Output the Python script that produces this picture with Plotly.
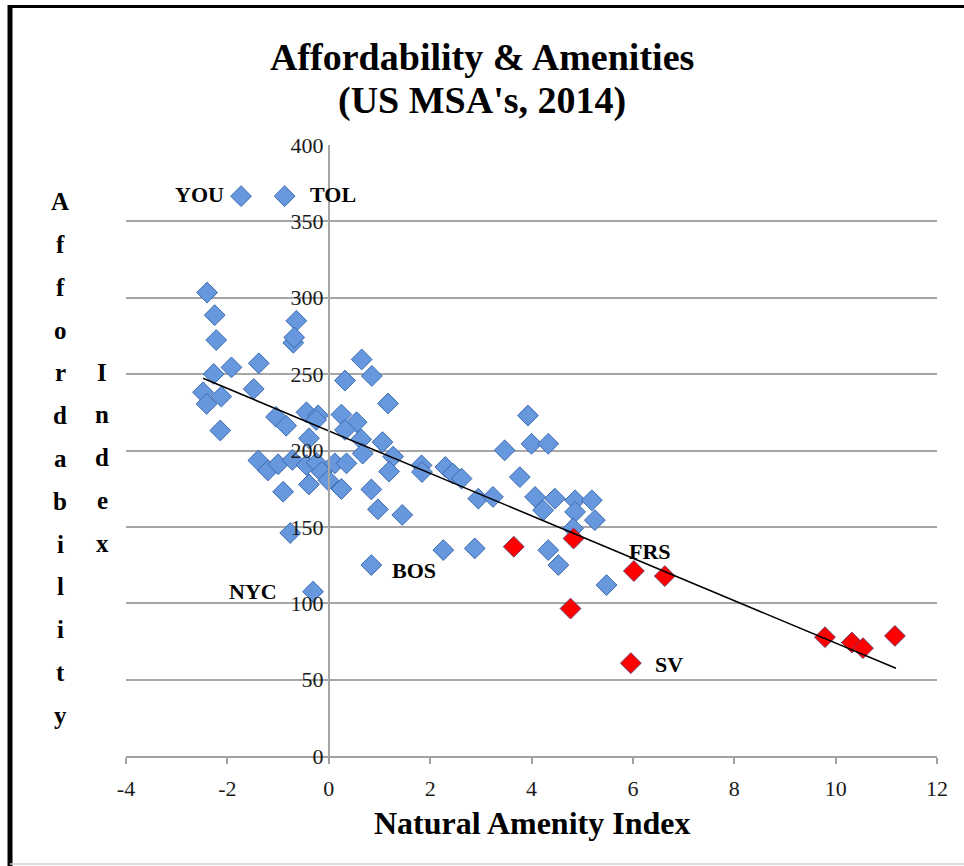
import plotly.graph_objects as go

# ---------------- data ----------------
blue_x = [-2.40, -2.25, -2.22, -2.27, -1.92, -1.38, -2.48, -2.41, -2.12, -1.48, -2.14,
          -0.64, -0.70, -0.68,
          -1.04, -0.84, -0.44, -0.21, -0.25, -0.39, 0.25, 0.55, 0.32, 0.64, 1.17, 1.06, 1.27, 0.67,
          -1.39, -1.20, -1.00, -0.72, -0.44, -0.24, -0.14, 0.12, 0.35, -0.39, -0.01, 0.25, -0.90,
          0.84, 1.19, 0.97, 1.45, -0.76,
          0.65, 0.32, 0.85, 1.83, 1.84, 2.30, 2.45, 2.62, 2.95, 3.24, 3.47, 3.93, 4.00, 4.33,
          3.77, 4.07, 4.46, 4.23, 4.86, 5.19, 4.86, 5.25, 4.82, 2.26, 2.88, 4.33, 4.53, 5.48,
          0.84, -0.31, -1.73, -0.87]
blue_y = [303.4, 288.6, 272.3, 250.1, 254.4, 257.1, 238.1, 230.5, 235.3, 240.3, 213.1,
          284.9, 270.5, 274.0,
          222.0, 216.2, 225.0, 223.0, 220.0, 208.0, 223.5, 218.5, 213.5, 207.3, 230.8, 205.5, 196.0, 198.0,
          193.5, 187.0, 191.0, 193.8, 190.5, 192.0, 186.0, 191.6, 191.6, 177.8, 180.5, 174.8, 173.0,
          174.5, 186.2, 161.5, 157.8, 146.0,
          259.6, 245.8, 248.8, 190.3, 185.9, 189.2, 184.9, 181.6, 168.5, 169.6, 200.1, 222.9, 204.4, 204.4,
          182.6, 169.6, 168.5, 160.9, 167.4, 167.4, 159.8, 154.4, 149.0, 134.8, 135.9, 134.8, 125.0, 111.9,
          125.0, 107.6, 366.5, 366.5]

red_x = [3.65, 4.83, 6.02, 6.63, 4.77, 5.96, 9.79, 10.32, 10.54, 11.17]
red_y = [137.0, 142.4, 121.1, 117.8, 96.5, 60.8, 77.8, 74.3, 70.6, 78.6]

trend_x = [-2.48, 11.19]
trend_y = [247.3, 57.4]

label_text = ["YOU", "TOL", "NYC", "BOS", "FRS", "SV"]
label_x = [-2.55, 0.08, -1.49, 1.68, 6.33, 6.72]
label_y = [367.3, 367.3, 107.6, 121.3, 133.8, 59.6]

x_ticks = [-4, -2, 0, 2, 4, 6, 8, 10, 12]
x_tick_labels = ["-4", "-2", "0", "2", "4", "6", "8", "10", "12"]
y_ticks = [0, 50, 100, 150, 200, 250, 300, 350, 400]
y_tick_labels = ["0", "50", "100", "150", "200", "250", "300", "350", "400"]

title_lines = ["Affordability & Amenities", "(US MSA's, 2014)"]
x_title = "Natural Amenity Index"
y_title_words = ["Affordability", "Index"]

# ---------------- figure ----------------
SERIF = "Liberation Serif"
W, H = 964, 866
ML, MR, MT, MB = 126, 27, 145, 110
PW, PH = W - ML - MR, H - MT - MB


def px_to_paper_x(px):
    return (px - ML) / PW


def py_to_paper_y(py):
    return (H - MB - py) / PH


fig = go.Figure()

fig.add_trace(go.Scatter(
    x=blue_x, y=blue_y, mode="markers", showlegend=False,
    marker=dict(symbol="diamond", size=16, color="#6797dc",
                line=dict(color="#3c6cb2", width=1)),
))
fig.add_trace(go.Scatter(
    x=red_x, y=red_y, mode="markers", showlegend=False,
    marker=dict(symbol="diamond", size=16, color="#ff0000",
                line=dict(color="#6e3a66", width=1)),
))
fig.add_trace(go.Scatter(
    x=trend_x, y=trend_y, mode="lines", showlegend=False,
    line=dict(color="black", width=1.6),
))

annotations = []
for t, lx, ly in zip(label_text, label_x, label_y):
    annotations.append(dict(x=lx, y=ly, xref="x", yref="y", text="<b>%s</b>" % t,
                            showarrow=False, xanchor="center", yanchor="middle",
                            font=dict(family=SERIF, size=22, color="black")))

# vertical stacked y-axis title letters
col_px = [60, 102]
start_py = [201.7, 372.0]
step = 42.8
for word, cx, sy in zip(y_title_words, col_px, start_py):
    for i, ch in enumerate(word):
        annotations.append(dict(x=px_to_paper_x(cx), y=py_to_paper_y(sy + i * step),
                                xref="paper", yref="paper", text="<b>%s</b>" % ch,
                                showarrow=False, xanchor="center", yanchor="middle",
                                font=dict(family=SERIF, size=25, color="black")))

# x-axis title
annotations.append(dict(x=px_to_paper_x(532), y=py_to_paper_y(823), xref="paper", yref="paper",
                        text="<b>%s</b>" % x_title, showarrow=False,
                        xanchor="center", yanchor="middle",
                        font=dict(family=SERIF, size=32, color="black")))

# chart title lines
for i, line in enumerate(title_lines):
    annotations.append(dict(x=px_to_paper_x(482), y=py_to_paper_y(57 + 43 * i),
                            xref="paper", yref="paper", text="<b>%s</b>" % line,
                            showarrow=False, xanchor="center", yanchor="middle",
                            font=dict(family=SERIF, size=38, color="black")))

shapes = [
    # outer frame (black top/left, light bottom)
    dict(type="line", xref="paper", yref="paper",
         x0=px_to_paper_x(8), x1=px_to_paper_x(966), y0=py_to_paper_y(6.5), y1=py_to_paper_y(6.5),
         line=dict(color="black", width=3)),
    dict(type="line", xref="paper", yref="paper",
         x0=px_to_paper_x(10), x1=px_to_paper_x(10), y0=py_to_paper_y(5), y1=py_to_paper_y(866),
         line=dict(color="black", width=5)),
    dict(type="line", xref="paper", yref="paper",
         x0=px_to_paper_x(10), x1=px_to_paper_x(966), y0=py_to_paper_y(864), y1=py_to_paper_y(864),
         line=dict(color="#d0d0d0", width=1.5)),
]

fig.update_layout(
    width=W, height=H,
    margin=dict(l=ML, r=MR, t=MT, b=MB),
    paper_bgcolor="white", plot_bgcolor="white",
    showlegend=False,
    annotations=annotations,
    shapes=shapes,
    xaxis=dict(range=[-4, 12], tickvals=x_ticks, ticktext=x_tick_labels,
               showgrid=False, zeroline=False,
               showline=True, linecolor="#a0a0a0", linewidth=1.5,
               ticks="outside", ticklen=6, tickcolor="#a0a0a0", tickwidth=1.5,
               ticklabelstandoff=6,
               tickfont=dict(family=SERIF, size=22, color="#1a1a1a"), domain=[0, 1]),
    yaxis=dict(range=[0, 400], tickvals=y_ticks, ticktext=y_tick_labels,
               showgrid=True, gridcolor="#a6a6a6",
               gridwidth=1.5, zeroline=False, anchor="free", position=0.25,
               showline=True, linecolor="#a6a6a6", linewidth=1.5, ticks="",
               tickfont=dict(family=SERIF, size=22, color="#1a1a1a")),
)

fig.write_html("out.html",
               config={"displayModeBar": False},
               post_script="document.body.style.margin='0';document.body.style.overflow='hidden';")
